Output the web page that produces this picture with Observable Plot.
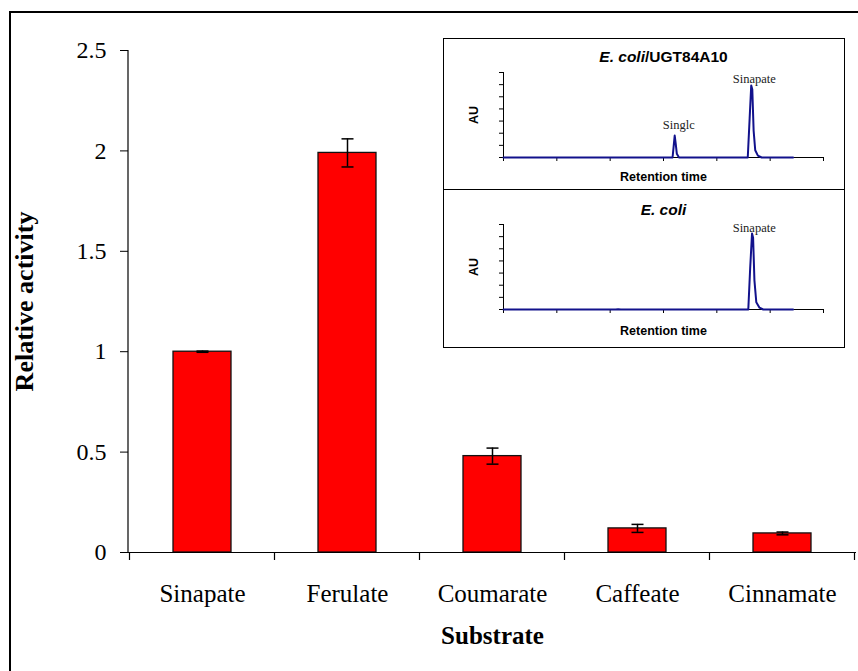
<!DOCTYPE html>
<html><head><meta charset="utf-8">
<script src="https://cdn.jsdelivr.net/npm/d3@7"></script>
<script src="https://cdn.jsdelivr.net/npm/@observablehq/plot@0.6"></script>
<style>
html,body{margin:0;padding:0;background:#fff;}
#wrap{position:relative;width:858px;height:671px;overflow:hidden;background:#fff;}
#outer{position:absolute;left:9px;top:11px;width:900px;height:700px;border-left:2px solid #000;border-top:2px solid #000;box-sizing:border-box;}
#main{position:absolute;left:0;top:0;}
#inset{position:absolute;left:443px;top:38px;width:402px;height:310px;background:#fff;}
#p1,#p2{position:absolute;left:0;}
#p1{top:0;} #p2{top:152px;}
#insetBorder{position:absolute;left:0;top:0;width:402px;height:310px;border:1.5px solid #000;box-sizing:border-box;pointer-events:none;}
#divider{position:absolute;left:0;top:151px;width:402px;height:0;border-top:1.5px solid #000;}
</style></head>
<body>
<div id="wrap">
  <div id="outer"></div>
  <div id="main"></div>
  <div id="inset"><div id="p1"></div><div id="p2"></div><div id="divider"></div><div id="insetBorder"></div></div>
</div>
<script>
// Main chart data
const categories = ["Sinapate", "Ferulate", "Coumarate", "Caffeate", "Cinnamate"];
const activity = [1.0, 1.99, 0.48, 0.12, 0.095];
const errors = [0.003, 0.07, 0.04, 0.02, 0.007];
const yTicks = [0, 0.5, 1, 1.5, 2, 2.5];
const xLabel = "Substrate";
const yLabel = "Relative activity";

// Inset chromatograms (arbitrary retention-time units, AU units)
const insetXTicks = [0, 1, 2, 3, 4, 5, 6];
const insetYTicks = [0, 1, 2, 3, 4, 5, 6, 7];
const trace1T  = [0, 3.17, 3.19, 3.21, 3.23, 3.25, 3.29, 4.58, 4.615, 4.645, 4.665, 4.69, 4.72, 4.77, 4.84, 5.43];
const trace1AU = [0, 0,    0.9,  1.81, 1.1,  0.3,  0,    0,    3.2,   5.93,  5.6,   2.2,  0.6,  0.15, 0,    0];
const trace2T  = [0, 2.1, 2.15, 2.2, 4.0, 4.59, 4.625, 4.66, 4.68, 4.705, 4.74, 4.8, 4.87, 5.43];
const trace2AU = [0, 0,   0.03, 0,   0,   0,    3.4,   6.26, 5.9,  2.4,   0.6,  0.15, 0,   0];
const peakNames1 = ["Singlc", "Sinapate"];
const peakT1 = [3.21, 4.645];
const peakAU1 = [1.81, 5.93];
const peakNames2 = ["Sinapate"];
const peakT2 = [4.663];
const peakAU2 = [6.26];
const title1 = "E. coli/UGT84A10";
const title2 = "E. coli";

const data = categories.map((c, i) => ({cat: c, v: activity[i], e: errors[i]}));

const capSymbol = {draw(ctx, size) { const r = Math.sqrt(size / Math.PI); ctx.moveTo(-r, 0); ctx.lineTo(r, 0); }};

function axisFrame(index, scales, values, dims) {
  const g = d3.create("svg:g").attr("stroke", "#000").attr("stroke-width", 1.2);
  const x0 = dims.marginLeft;
  const y0 = dims.marginTop, y1 = dims.height - dims.marginBottom;
  g.append("line").attr("x1", x0).attr("x2", x0).attr("y1", y0).attr("y2", y1);
  const x = scales.x;
  const step = x.step ? x.step() : (dims.width - dims.marginLeft - dims.marginRight) / categories.length;
  const bw = x.bandwidth ? x.bandwidth() : 0;
  const start = x(categories[0]) - (step - bw) / 2;
  for (let i = 0; i <= categories.length; i++) {
    const xx = start + i * step;
    g.append("line").attr("x1", xx).attr("x2", xx).attr("y1", y1).attr("y2", y1 + 8);
  }
  return g.node();
}

const main = Plot.plot({
  width: 858, height: 671,
  marginLeft: 128, marginRight: 2, marginTop: 50, marginBottom: 119,
  style: {fontFamily: "Liberation Serif", fontSize: "24px", background: "transparent", overflow: "visible"},
  x: {domain: categories, paddingInner: 0.6, paddingOuter: 0.3, label: null},
  y: {domain: [0, 2.5], label: null},
  marks: [
    Plot.barY(data, {x: "cat", y: "v", fill: "#ff0000", stroke: "#111", strokeWidth: 1.3}),
    Plot.ruleX(data, {x: "cat", y1: d => d.v - d.e, y2: d => d.v + d.e, stroke: "#000", strokeWidth: 1.5}),
    Plot.dot(data, {x: "cat", y: d => d.v + d.e, symbol: capSymbol, r: 6, fill: "none", stroke: "#000", strokeWidth: 1.5}),
    Plot.dot(data, {x: "cat", y: d => d.v - d.e, symbol: capSymbol, r: 6, fill: "none", stroke: "#000", strokeWidth: 1.5}),
    Plot.axisY({ticks: yTicks, tickSize: 8, tickPadding: 14, tickFormat: d => String(d), fontSize: 24, stroke: "#000", label: null}),
    Plot.axisX({tickSize: 0, tickPadding: 32, fontSize: 25, label: null}),
    Plot.ruleY([0], {stroke: "#000", strokeWidth: 1.2}),
    axisFrame,
    Plot.text([yLabel], {frameAnchor: "left", rotate: -90, dx: -104, textAnchor: "middle", lineAnchor: "middle", fontWeight: "bold", fontSize: 26}),
    Plot.text([xLabel], {frameAnchor: "bottom", dy: 83, textAnchor: "middle", lineAnchor: "middle", fontWeight: "bold", fontSize: 25})
  ]
});
document.getElementById("main").appendChild(main);

function panel(times, aus, names, pt, pau, title, h, mt, mb, dxs, dys, titleDy, rtDy) {
  const tr = times.map((t, i) => ({t, au: aus[i]}));
  const peaks = names.map((n, i) => ({name: n, t: pt[i], au: pau[i], dx: dxs[i], dy: dys[i]}));
  return Plot.plot({
    width: 402, height: h,
    marginLeft: 60, marginRight: 22, marginTop: mt, marginBottom: mb,
    style: {fontFamily: "Liberation Sans", background: "transparent", overflow: "visible"},
    x: {domain: [0, 6], label: null},
    y: {domain: [0, 7], label: null},
    marks: [
      Plot.axisX({ticks: insetXTicks, tickSize: 4, tickFormat: () => "", label: null, stroke: "#000"}),
      Plot.axisY({ticks: insetYTicks, tickSize: 4, tickFormat: () => "", label: null, stroke: "#000"}),
      Plot.ruleY([0], {stroke: "#000", strokeWidth: 1}),
      Plot.ruleX([0], {stroke: "#000", strokeWidth: 1}),
      Plot.line(tr, {x: "t", y: "au", stroke: "#12128c", strokeWidth: 2}),
      ...peaks.map(p => Plot.text([p], {x: "t", y: "au", text: "name", dx: p.dx, dy: p.dy, lineAnchor: "bottom", textAnchor: "middle", fontFamily: "Liberation Serif", fontSize: 12.5, fill: "#222"})),
      Plot.text([title], {frameAnchor: "top", dy: titleDy, lineAnchor: "bottom", textAnchor: "middle", fontWeight: "bold", fontSize: 15.5}),
      Plot.text(["Retention time"], {frameAnchor: "bottom", dy: rtDy, lineAnchor: "bottom", textAnchor: "middle", fontWeight: "bold", fontSize: 12.5}),
      Plot.text(["AU"], {frameAnchor: "left", dx: -30, rotate: -90, textAnchor: "middle", lineAnchor: "middle", fontWeight: "bold", fontSize: 12.5})
    ]
  });
}

const p1 = panel(trace1T, trace1AU, peakNames1, peakT1, peakAU1, title1, 152, 34, 33, [4, 3], [-7, -2], -11, 23);
const p2 = panel(trace2T, trace2AU, peakNames2, peakT2, peakAU2, title2, 158, 34, 39, [2], [-1], -10, 25);
document.getElementById("p1").appendChild(p1);
document.getElementById("p2").appendChild(p2);

// italicize "E. coli" in titles
function italicize(svg) {
  svg.querySelectorAll("text").forEach(t => {
    const s = t.textContent;
    if (s.startsWith("E. coli")) {
      const target = t.querySelector("tspan") || t;
      const rest = s.slice(7);
      target.textContent = "";
      const ns = "http://www.w3.org/2000/svg";
      const a = document.createElementNS(ns, "tspan");
      a.setAttribute("font-style", "italic");
      a.textContent = "E. coli";
      target.appendChild(a);
      if (rest) {
        const b = document.createElementNS(ns, "tspan");
        b.textContent = rest;
        target.appendChild(b);
      }
    }
  });
}
italicize(p1); italicize(p2);
</script>
</body></html>
